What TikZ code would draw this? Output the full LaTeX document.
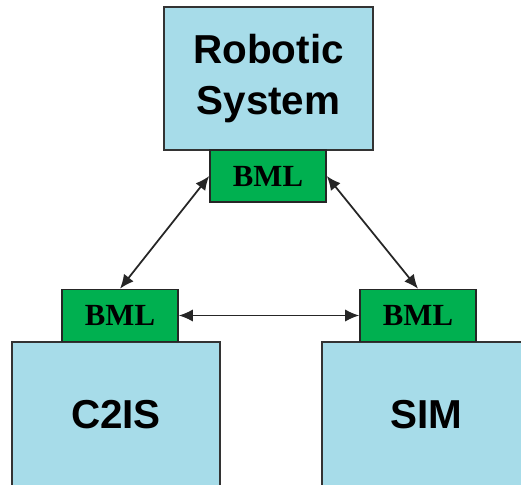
\documentclass[tikz,border=0pt]{standalone}
\usepackage{fontspec}
\setmainfont{Liberation Serif}
\setsansfont{Liberation Sans}
\usetikzlibrary{arrows.meta}
\definecolor{boxblue}{RGB}{167,220,233}
\definecolor{bmlgreen}{RGB}{0,176,80}
\tikzset{
    sysbox/.style={draw=black!80, line width=0.9pt, fill=boxblue, align=center,
        minimum width=4.17cm, minimum height=2.86cm, inner sep=0pt,
        font=\sffamily\bfseries\fontsize{23}{29.5}\selectfont},
    bmlbox/.style={draw=black!85, line width=0.9pt, fill=bmlgreen,
        minimum width=2.32cm, minimum height=1.04cm, inner sep=0pt,
        font=\bfseries\fontsize{17.5}{20}\selectfont},
    link/.style={{Latex[length=8pt,width=7pt]}-{Latex[length=8pt,width=7pt]}, line width=1pt, black!85}
}
\begin{document}
\begin{tikzpicture}[x=0.02cm, y=-0.02cm]
            \useasboundingbox (0, 0) rectangle (521, 484);
            \clip (0, 0) rectangle (521, 484);
            % top system
            \node[sysbox] (robot) at (268.5, 78.5) {Robotic\\System};
            \node[bmlbox] (tbml) at (268, 176) {BML};
            % lower systems
            \node[sysbox, minimum height=2.92cm] (c2is) at (116, 415) {C2IS};
            \node[bmlbox] (lbml) at (120, 315.5) {BML};
            \node[sysbox, minimum height=2.92cm] (sim) at (426, 415) {SIM};
            \node[bmlbox] (rbml) at (418, 315.5) {BML};
            % links
            \draw[link] (tbml.west) -- (lbml.north);
            \draw[link] (tbml.east) -- (rbml.north);
            \draw[link] (lbml.east) -- (rbml.west);
        \end{tikzpicture}
\end{document}
